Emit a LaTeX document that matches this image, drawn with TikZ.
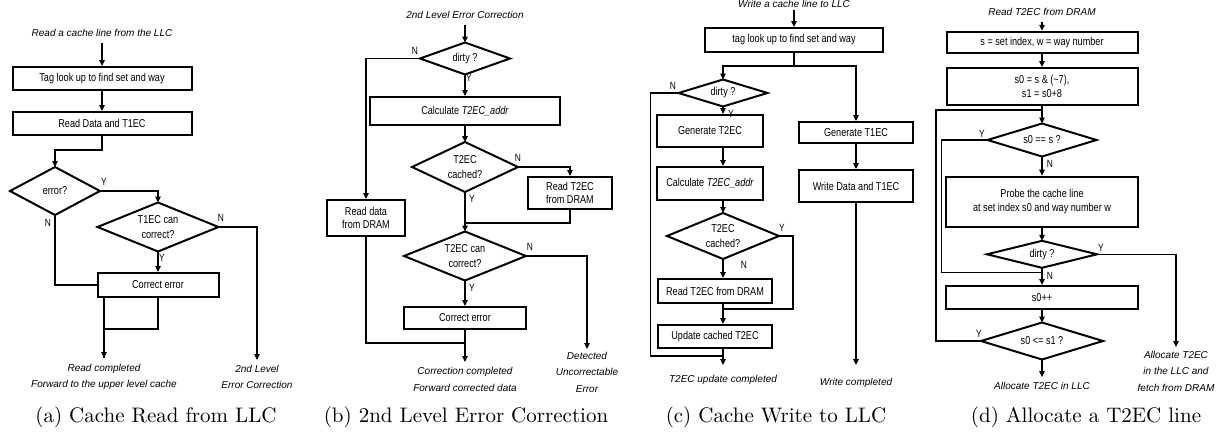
\documentclass[tikz,border=0pt]{standalone}
\usepackage{graphicx}
\usepackage{fontspec}
\newfontfamily\boxfont[FakeStretch=0.8]{Liberation Sans}
\newfontfamily\labfont{Liberation Sans}
\usetikzlibrary{shapes.geometric,arrows.meta}
\begin{document}
\begin{tikzpicture}[x=1pt,y=-1pt,
 box/.style={draw,line width=2pt,inner sep=0pt,align=center,font=\boxfont\fontsize{11.4}{13.5}\selectfont},
 dia/.style={draw,diamond,line width=2pt,inner sep=0pt,outer sep=0pt},
 dtxt/.style={inner sep=0pt,align=center,font=\boxfont\fontsize{11.4}{14.5}\selectfont},
 lbl/.style={inner sep=0pt,align=center,font=\labfont\itshape\fontsize{10}{16.5}\selectfont},
 yn/.style={inner sep=0pt,font=\boxfont\fontsize{10.5}{12}\selectfont},
 captxt/.style={inner sep=0pt},
 conn/.style={line width=1.2pt},
 arr/.style={conn,-{Triangle[length=6pt,width=5.5pt]}},
]
\useasboundingbox (0,0) rectangle (1222,434);

% ---------------- (a) ----------------
\node[lbl] (ta) at (102,33) {Read a cache line from the LLC};
\node[box,minimum width=179pt,minimum height=23pt] (a1) at (102,78.5) {Tag look up to find set and way};
\node[box,minimum width=179pt,minimum height=23pt] (a2) at (102,123.5) {Read Data and T1EC};
\node[dia,minimum width=90pt,minimum height=48pt] (a3) at (55,191) {};
\node[dtxt] (a3t) at (a3) {error?};
\node[dia,minimum width=121pt,minimum height=49pt] (a4) at (158,227) {};
\node[dtxt] (a4t) at (a4) {T1EC can\\correct?};
\node[box,minimum width=121pt,minimum height=24pt] (a5) at (158,285) {Correct error};
\coordinate (aend) at (104,358);
\coordinate (a2nd) at (257,360);
\node[lbl] (la1) at (104,377) {Read completed\\Forward to the upper level cache};
\node[lbl] (la2) at (257,377) {2nd Level\\Error Correction};
\node[yn] (ya3) at (104,182) {Y};
\node[yn] (na3) at (48,223) {N};
\node[yn] (na4) at (221,218) {N};
\node[yn] (ya4) at (162,258) {Y};
\draw[arr] ([yshift=-6pt]ta.south) -- (a1.north);
\draw[arr] (a1.south) -- (a2.north);
\draw[arr] (a2.south) -- ++(0,14) -| (a3.north);
\draw[arr] (a3.east) -| (a4.north);
\draw[arr] (a4.east) -| (a2nd);
\draw[arr] (a4.south) -- (a5.north);
\draw[conn] (a3.south) |- (a5.west);
\draw[arr] (a5.south -| aend) -- (aend);
\draw[conn] (a5.south) -- ++(0,31) -| (aend);
\node[captxt] (capa) at (156,417) {\scalebox{2.1}{(a) Cache Read from LLC}};

% ---------------- (b) ----------------
\node[lbl] (tb) at (465,15) {2nd Level Error Correction};
\node[dia,minimum width=90pt,minimum height=32pt] (b1) at (465,58.5) {};
\node[dtxt] (b1t) at (b1) {dirty ?};
\node[box,minimum width=190pt,minimum height=28pt] (b2) at (465,111) {Calculate \textit{T2EC\_addr}};
\node[dia,minimum width=106pt,minimum height=50pt] (b3) at (465,167) {};
\node[dtxt] (b3t) at (b3) {T2EC\\cached?};
\node[box,minimum width=84pt,minimum height=32pt] (b4) at (570,193) {Read T2EC\\from DRAM};
\node[dia,minimum width=122pt,minimum height=49pt] (b5) at (465,256) {};
\node[dtxt] (b5t) at (b5) {T2EC can\\correct?};
\node[box,minimum width=78pt,minimum height=36pt] (b6) at (366,218) {Read data\\from DRAM};
\node[box,minimum width=122pt,minimum height=22pt] (b7) at (465,318) {Correct error};
\coordinate (bend) at (465,362);
\coordinate (bdue) at (587,349);
\node[lbl] (lb1) at (465,379.5) {Correction completed\\Forward corrected data};
\node[lbl] (lb2) at (587,372) {Detected\\Uncorrectable\\Error};
\node[yn] (nb1) at (415,51) {N};
\node[yn] (yb1) at (469,78) {Y};
\node[yn] (nb3) at (518,158) {N};
\node[yn] (yb3) at (472,199) {Y};
\node[yn] (nb5) at (530,247) {N};
\node[yn] (yb5) at (472,288) {Y};
\draw[arr] ([yshift=-6pt]tb.south) -- (b1.north);
\draw[arr] (b1.west) -| (b6.north);
\draw[arr] (b1.south) -- (b2.north);
\draw[arr] (b2.south) -- (b3.north);
\draw[arr] (b3.east) -| (b4.north);
\draw[arr] (b3.south) -- (b5.north);
\draw[conn] (b4.south) -- ++(0,13) -| (b3.south |- 0,222);
\draw[arr] (b5.east) -| (bdue);
\draw[arr] (b5.south) -- (b7.north);
\draw[conn] (b6.south) |- (465,343);
\draw[arr] (b7.south) -- (bend);
\node[captxt] (capb) at (466,417) {\scalebox{2.1}{(b) 2nd Level Error Correction}};

% ---------------- (c) ----------------
\node[lbl] (tc) at (794,3.5) {Write a cache line to LLC};
\node[box,minimum width=178pt,minimum height=24pt] (c1) at (794,40) {tag look up to find set and way};
\coordinate (csplit) at (794,66);
\node[dia,minimum width=89pt,minimum height=27pt] (c2) at (723,93) {};
\node[dtxt] (c2t) at (c2) {dirty ?};
\node[box,minimum width=106pt,minimum height=32pt] (c3) at (710,131) {Generate T2EC};
\node[box,minimum width=106pt,minimum height=33pt] (c3b) at (710,183.5) {Calculate \textit{T2EC\_addr}};
\node[dia,minimum width=112pt,minimum height=46pt] (c4) at (723,236) {};
\node[dtxt] (c4t) at (c4) {T2EC\\cached?};
\node[box,minimum width=114pt,minimum height=24pt] (c5) at (715,291) {Read T2EC from DRAM};
\node[box,minimum width=114pt,minimum height=23pt] (c7) at (715,336.5) {Update cached T2EC};
\node[box,minimum width=114pt,minimum height=21pt] (c6) at (856,132.5) {Generate T1EC};
\node[box,minimum width=114pt,minimum height=32pt] (c8) at (856,186) {Write Data and T1EC};
\coordinate (cend) at (723,365);
\coordinate (cwend) at (856,365);
\node[lbl] (lc1) at (723,380) {T2EC update completed};
\node[lbl] (lc2) at (856,383) {Write completed};
\node[yn] (nc2) at (673,86) {N};
\node[yn] (yc2) at (731,114) {Y};
\node[yn] (yc4) at (782,228) {Y};
\node[yn] (nc4) at (744,265) {N};
\draw[arr] ([yshift=-3pt]tc.south) -- (c1.north);
\draw[conn] (c1.south) -- (csplit);
\draw[arr] (csplit) -| (c2.north);
\draw[arr] (csplit) -| (c6.north);
\draw[arr] (c2.south) -- (c2.south |- c3.north);
\draw[arr] (c2.south |- c3.south) -- (c2.south |- c3b.north);
\draw[arr] (c2.south |- c3b.south) -- (c4.north);
\draw[arr] (c4.south) -- (c4.south |- c5.north);
\draw[arr] (c4.south |- c5.south) -- (c4.south |- c7.north);
\draw[arr] (c4.south |- c7.south) -- (cend);
\draw[conn] (c4.east) -- ++(14,0) |- (723,309);
\draw[conn] (c2.west) -- ++(-28,0) |- (723,356);
\draw[arr] (c6.south) -- (c8.north);
\draw[arr] (c8.south) -- (cwend);
\node[captxt] (capc) at (776,417) {\scalebox{2.1}{(c) Cache Write to LLC}};

% ---------------- (d) ----------------
\node[lbl] (td) at (1042,12) {Read T2EC from DRAM};
\node[box,minimum width=191pt,minimum height=21.5pt] (d1) at (1042,42.5) {s = set index, w = way number};
\node[box,minimum width=191pt,minimum height=37pt] (d2) at (1042,86.5) {s0 = s \& (\textasciitilde 7),\\s1 = s0+8};
\node[dia,minimum width=109pt,minimum height=33pt] (d3) at (1042,140) {};
\node[dtxt] (d3t) at (d3) {s0 == s ?};
\node[box,minimum width=192pt,minimum height=50pt] (d4) at (1042,201.7) {Probe the cache line\\at set index s0 and way number w};
\node[dia,minimum width=110pt,minimum height=27pt] (d5) at (1042,254.3) {};
\node[dtxt] (d5t) at (d5) {dirty ?};
\node[box,minimum width=192pt,minimum height=23pt] (d6) at (1042,297.5) {s0++};
\node[dia,minimum width=122pt,minimum height=37pt] (d7) at (1042,341) {};
\node[dtxt] (d7t) at (d7) {s0 <= s1 ?};
\coordinate (dend) at (1042,377);
\coordinate (ddram) at (1176,347);
\node[lbl] (ld1) at (1042,386) {Allocate T2EC in LLC};
\node[lbl] (ld2) at (1176,371) {Allocate T2EC\\in the LLC and\\fetch from DRAM};
\node[yn] (yd3) at (982,134) {Y};
\node[yn] (nd3) at (1050,164) {N};
\node[yn] (yd5) at (1101,248) {Y};
\node[yn] (nd5) at (1050,276) {N};
\node[yn] (yd7) at (979,334) {Y};
\draw[arr] ([yshift=-6pt]td.south) -- (d1.north);
\draw[arr] (d1.south) -- (d2.north);
\draw[arr] (d2.south) -- (d3.north);
\draw[conn] (d7.west) -| (936,110) -- (1042,110);
\draw[conn] (d3.west) -| (941.7,272.7) -- (1042,272.7);
\draw[arr] (d3.south) -- (d4.north);
\draw[arr] (d4.south) -- (d5.north);
\draw[arr] (d5.east) -| (ddram);
\draw[arr] (d5.south) -- (d6.north);
\draw[arr] (d6.south) -- (d7.north);
\draw[arr] (d7.south) -- (dend);
\node[captxt] (capd) at (1086,417) {\scalebox{2.1}{(d) Allocate a T2EC line}};
\end{tikzpicture}
\end{document}
